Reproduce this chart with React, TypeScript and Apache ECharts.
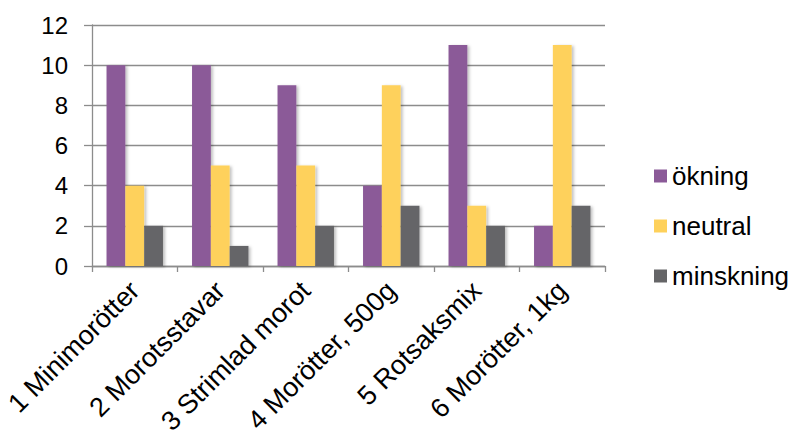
import React, { useEffect, useRef } from "react";
import * as echarts from "echarts";

const categories = [
  "1 Minimorötter",
  "2 Morotsstavar",
  "3 Strimlad morot",
  "4 Morötter, 500g",
  "5 Rotsaksmix",
  "6 Morötter, 1kg",
];
const okning = [10, 10, 9, 4, 11, 2];
const neutral = [4, 5, 5, 9, 3, 11];
const minskning = [2, 1, 2, 3, 2, 3];
const seriesNames = ["ökning", "neutral", "minskning"];
const colors = ["#8B5A98", "#FED15B", "#656567"];

export default function App() {
  const ref = useRef<HTMLDivElement>(null);
  useEffect(() => {
    if (!ref.current) return;
    const chart = echarts.init(ref.current, undefined, { renderer: "svg" });
    const font = "Liberation Sans, Arial, sans-serif";
    const shadow = {
      shadowBlur: 3,
      shadowOffsetX: 2,
      shadowOffsetY: 1,
      shadowColor: "rgba(0,0,0,0.25)",
    };
    const datasets = [okning, neutral, minskning];
    chart.setOption({
      animation: false,
      color: colors,
      textStyle: { fontFamily: font },
      grid: {
        left: 92,
        right: 189,
        top: 25,
        bottom: 168,
        containLabel: false,
        outerBoundsMode: "none",
      },
      legend: {
        orient: "vertical",
        left: 654,
        top: 163,
        padding: 0,
        itemWidth: 13,
        itemHeight: 13,
        itemGap: 24,
        icon: "rect",
        textStyle: { fontSize: 26, color: "#000", fontFamily: font },
        data: seriesNames,
      },
      xAxis: {
        type: "category",
        data: categories,
        axisLine: { show: true, lineStyle: { color: "#8c8c8c", width: 1.3 } },
        axisTick: { show: true, length: 6, lineStyle: { color: "#8c8c8c", width: 1.3 } },
        axisLabel: {
          interval: 0,
          rotate: 45,
          fontSize: 27,
          color: "#000",
          margin: 20,
          padding: [41, 0, 0, 0],
          fontFamily: font,
        },
      },
      yAxis: {
        type: "value",
        min: 0,
        max: 12,
        interval: 2,
        axisLine: { show: true, lineStyle: { color: "#8c8c8c", width: 1.3 } },
        axisTick: { show: true, length: 8, lineStyle: { color: "#8c8c8c", width: 1.3 } },
        splitLine: { show: true, lineStyle: { color: "#8c8c8c", width: 1.3 } },
        axisLabel: { fontSize: 24, color: "#000", margin: 24, fontFamily: font },
      },
      series: seriesNames.map((name, i) => ({
        name,
        type: "bar",
        data: datasets[i],
        barGap: "0%",
        barCategoryGap: "34%",
        itemStyle: { color: colors[i], ...shadow },
      })),
    });
    return () => chart.dispose();
  }, []);
  return (
    <div
      ref={ref}
      style={{ position: "fixed", left: 0, top: 0, width: 794, height: 434, background: "#fff" }}
    />
  );
}
